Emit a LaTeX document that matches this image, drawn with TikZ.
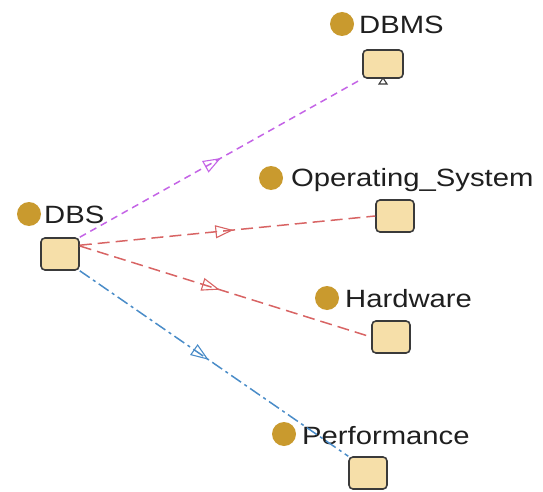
\documentclass[tikz,border=0pt]{standalone}
\usepackage{fontspec}
\setmainfont[FakeStretch=1.17]{Liberation Sans}
\usetikzlibrary{arrows.meta,decorations.markings}
\definecolor{boxfill}{HTML}{F6DFA9}
\definecolor{boxline}{HTML}{3A3A3A}
\definecolor{dotfill}{HTML}{C99A2E}
\definecolor{linkviolet}{HTML}{C464E6}
\definecolor{linkred}{HTML}{D86464}
\definecolor{linkblue}{HTML}{4A8CC8}
\tikzset{
  concept/.style={draw=boxline, line width=1.6pt, fill=boxfill, minimum width=38pt, minimum height=32pt,
    inner sep=0pt, rounded corners=4pt},
  dot/.style={circle, fill=dotfill, minimum size=24pt, inner sep=0pt},
  lbl/.style={anchor=west, inner sep=0pt, font=\fontsize{25pt}{30pt}\selectfont, text=black!88},
  midtip/.style={postaction={decorate}, decoration={markings,
     mark=at position #1 with {\arrow[solid,line width=1.1pt]{Triangle[open,length=18pt,width=13pt]}}}},
  link/.style={line width=1.5pt},
}
\begin{document}
\begin{tikzpicture}[x=1pt,y=-1pt]
\useasboundingbox (0,0) rectangle (543,492);
% concept boxes
\node[concept] (dbs) at (60,254) {};
\node[concept, minimum width=40pt, minimum height=28pt] (dbms) at (383,64) {};
\node[concept] (os) at (395,216) {};
\node[concept] (hw) at (391,337) {};
\node[concept] (perf) at (368,473) {};
% small marker under DBMS
\draw[boxline, line width=1.1pt, fill=white] (379,84) -- (387,84) -- (383,78) -- cycle;
% bullets and labels
\node[dot] (dbsdot) at (29,214) {};
\node[lbl] (dbslbl) at (44,215) {DBS};
\node[dot] (dbmsdot) at (342,24) {};
\node[lbl] (dbmslbl) at (359,25) {DBMS};
\node[dot] (osdot) at (271,178) {};
\node[lbl] (oslbl) at (291,180) {Operating\_System};
\node[dot] (hwdot) at (327,298) {};
\node[lbl] (hwlbl) at (345,299) {Hardware};
\node[dot] (perfdot) at (284,434) {};
\node[lbl] (perflbl) at (302,436) {Performance};
% relations
\draw[link, linkviolet, dash pattern=on 7pt off 5pt, midtip=0.5] (dbs.north east) -- (dbms.south west);
\draw[link, linkred, dash pattern=on 12pt off 6pt, midtip=0.52] ([yshift=-8pt]dbs.north east) -- (os.west);
\draw[link, linkred, dash pattern=on 12pt off 6pt, midtip=0.48] ([yshift=8pt]dbs.east) -- (hw.west);
\draw[link, linkblue, dash pattern=on 12pt off 4pt on 3pt off 4pt, midtip=0.48] (dbs.south east) -- (perf.north west);
\end{tikzpicture}
\end{document}
